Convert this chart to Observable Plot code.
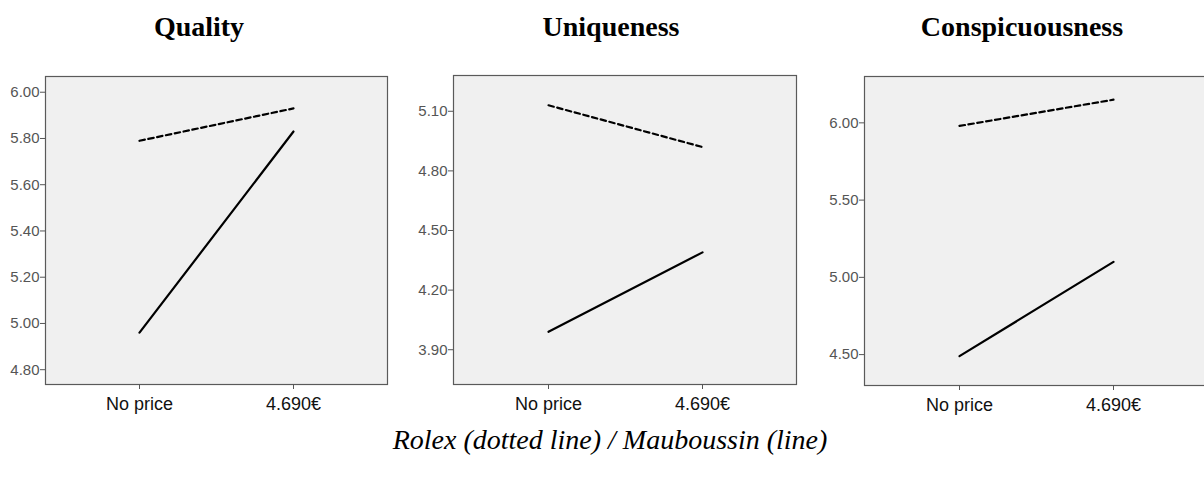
<!DOCTYPE html>
<html>
<head>
<meta charset="utf-8">
<script src="https://cdn.jsdelivr.net/npm/d3@7"></script>
<script src="https://cdn.jsdelivr.net/npm/@observablehq/plot@0.6"></script>
<style>
  html, body { margin: 0; padding: 0; background: #fff; }
  #root { position: relative; width: 1204px; height: 484px; overflow: hidden; background: #fff; }
  .title { position: absolute; top: 11px; font-family: "Liberation Serif", "Times New Roman", serif; font-weight: bold; font-size: 28px; color: #000; transform: translateX(-50%); white-space: nowrap; }
  .caption { position: absolute; top: 424px; left: 610px; transform: translateX(-50%); font-family: "Liberation Serif", "Times New Roman", serif; font-style: italic; font-size: 28px; color: #000; white-space: nowrap; }
  .panel { position: absolute; top: 60px; }
  .panel svg { max-width: none !important; }
  .panel svg g[aria-label="y-axis tick label"] text { font-size: 15px; }
  .panel svg g[aria-label="x-axis tick label"] text { font-size: 18px; }
</style>
</head>
<body>
<div id="root"></div>
<script>
// ---- data ----
const categories = ["No price", "4.690€"];
const panelTitles = ["Quality", "Uniqueness", "Conspicuousness"];

const qualityRolex = [5.79, 5.93];
const qualityMauboussin = [4.96, 5.83];
const uniquenessRolex = [5.13, 4.92];
const uniquenessMauboussin = [3.99, 4.39];
const conspicuousnessRolex = [5.98, 6.15];
const conspicuousnessMauboussin = [4.49, 5.10];

const qualityTicks = [4.80, 5.00, 5.20, 5.40, 5.60, 5.80, 6.00];
const uniquenessTicks = [3.90, 4.20, 4.50, 4.80, 5.10];
const conspicuousnessTicks = [4.50, 5.00, 5.50, 6.00];

const qualityDomain = [4.736, 6.068];
const uniquenessDomain = [3.725, 5.28];
const conspicuousnessDomain = [4.30, 6.30];

const captionText = "Rolex (dotted line) / Mauboussin (line)";

// ---- layout ----
const panels = [
  {title: panelTitles[0], rolex: qualityRolex, mau: qualityMauboussin, ticks: qualityTicks, domain: qualityDomain,
   left: 0, width: 400, marginLeft: 45, marginRight: 13, marginTop: 16, marginBottom: 36, titleX: 199},
  {title: panelTitles[1], rolex: uniquenessRolex, mau: uniquenessMauboussin, ticks: uniquenessTicks, domain: uniquenessDomain,
   left: 400, width: 400, marginLeft: 53, marginRight: 4, marginTop: 15, marginBottom: 36, titleX: 611},
  {title: panelTitles[2], rolex: conspicuousnessRolex, mau: conspicuousnessMauboussin, ticks: conspicuousnessTicks, domain: conspicuousnessDomain,
   left: 800, width: 420, marginLeft: 64, marginRight: 13, marginTop: 16, marginBottom: 35, titleX: 1022}
];

const root = document.getElementById("root");

for (const p of panels) {
  const rolexData = categories.map((c, i) => ({price: c, value: p.rolex[i]}));
  const mauData = categories.map((c, i) => ({price: c, value: p.mau[i]}));

  const chart = Plot.plot({
    width: p.width,
    height: 360,
    marginLeft: p.marginLeft,
    marginRight: p.marginRight,
    marginTop: p.marginTop,
    marginBottom: p.marginBottom,
    style: {fontFamily: "Liberation Sans, Arial, sans-serif", background: "transparent", overflow: "visible", maxWidth: "none"},
    x: {type: "point", domain: categories, padding: 0.61},
    y: {domain: p.domain},
    marks: [
      Plot.frame({fill: "#f0f0f0", stroke: "#5a5a5a", strokeWidth: 1.2}),
      Plot.axisY({ticks: p.ticks, tickFormat: d3.format(".2f"), tickSize: 5, tickPadding: 1, fill: "#555", stroke: "#555", label: null}),
      Plot.axisX({tickSize: 5, tickPadding: 8, fill: "#111", stroke: "#555", label: null}),
      Plot.line(rolexData, {x: "price", y: "value", stroke: "#000", strokeWidth: 2.2, strokeDasharray: "5.5,3.5"}),
      Plot.line(mauData, {x: "price", y: "value", stroke: "#000", strokeWidth: 2.2})
    ]
  });
  const wrap = document.createElement("div");
  wrap.className = "panel";
  wrap.style.left = p.left + "px";
  wrap.appendChild(chart);
  root.appendChild(wrap);

  const t = document.createElement("div");
  t.className = "title";
  t.style.left = p.titleX + "px";
  t.textContent = p.title;
  root.appendChild(t);
}

const cap = document.createElement("div");
cap.className = "caption";
cap.textContent = captionText;
root.appendChild(cap);
</script>
</body>
</html>
